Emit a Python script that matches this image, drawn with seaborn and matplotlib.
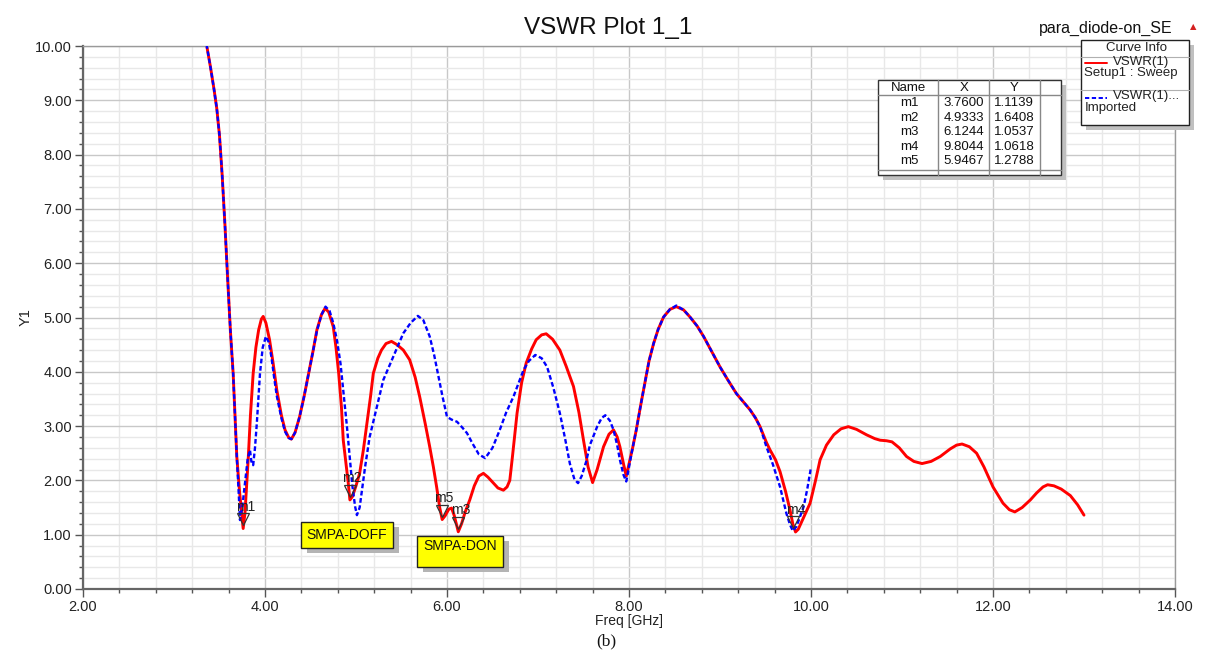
import numpy as np
import pandas as pd
import seaborn as sns
import matplotlib.pyplot as plt
from matplotlib.lines import Line2D
from matplotlib.patches import Rectangle
from matplotlib.ticker import MultipleLocator, FormatStrFormatter
from matplotlib.transforms import offset_copy

# VSWR(1) Setup1 : Sweep  (red, solid)
freq_sweep = [3.33, 3.36, 3.40, 3.44, 3.47, 3.50, 3.53, 3.56, 3.59, 3.62, 3.65, 3.69, 3.72, 3.744,
              3.76, 3.78, 3.80, 3.817, 3.84, 3.87, 3.90, 3.93, 3.96, 3.98, 4.01, 4.05, 4.09,
              4.13, 4.18, 4.22, 4.26, 4.29, 4.33, 4.38, 4.43, 4.48, 4.53, 4.57, 4.62, 4.66,
              4.70, 4.75, 4.78, 4.81, 4.84, 4.86, 4.89, 4.915, 4.933, 4.96, 5.00, 5.04, 5.08,
              5.12, 5.16, 5.19, 5.24, 5.28, 5.33, 5.39, 5.45, 5.52, 5.59, 5.65, 5.70, 5.76,
              5.81, 5.85, 5.886, 5.92, 5.947, 5.98, 6.02, 6.05, 6.08, 6.11, 6.124, 6.16, 6.20,
              6.25, 6.30, 6.35, 6.40, 6.45, 6.51, 6.56, 6.62, 6.66, 6.69, 6.72, 6.77, 6.82,
              6.87, 6.93, 6.98, 7.04, 7.09, 7.16, 7.24, 7.31, 7.39, 7.45, 7.50, 7.55, 7.60,
              7.65, 7.72, 7.78, 7.83, 7.87, 7.90, 7.94, 7.97, 8.00, 8.04, 8.08, 8.13, 8.18,
              8.22, 8.27, 8.32, 8.38, 8.45, 8.52, 8.60, 8.67, 8.75, 8.82, 8.91, 9.00, 9.09,
              9.18, 9.26, 9.33, 9.39, 9.44, 9.51, 9.55, 9.61, 9.66, 9.72, 9.77, 9.80, 9.83,
              9.86, 9.92, 9.99, 10.05, 10.10, 10.17, 10.25, 10.33, 10.41, 10.50, 10.61, 10.70,
              10.76, 10.83, 10.89, 10.97, 11.05, 11.13, 11.22, 11.32, 11.42, 11.53, 11.60,
              11.66, 11.74, 11.82, 11.90, 12.00, 12.11, 12.18, 12.24, 12.32, 12.41, 12.48,
              12.55, 12.60, 12.67, 12.75, 12.85, 12.93, 13.00]
vswr_sweep = [10.3, 10.0, 9.62, 9.20, 8.85, 8.35, 7.60, 6.70, 5.70, 4.75, 3.97, 2.44, 1.8, 1.4,
              1.114, 1.4, 1.95, 2.44, 3.2, 3.97, 4.45, 4.77, 4.97, 5.02, 4.90, 4.59, 4.15,
              3.66, 3.20, 2.93, 2.79, 2.76, 2.88, 3.17, 3.55, 3.97, 4.40, 4.77, 5.05, 5.17,
              5.10, 4.83, 4.45, 3.97, 3.35, 2.74, 2.30, 1.95, 1.64, 1.70, 1.90, 2.13, 2.55,
              3.05, 3.55, 3.97, 4.25, 4.40, 4.52, 4.56, 4.50, 4.40, 4.22, 3.90, 3.54, 3.05,
              2.62, 2.25, 1.88, 1.50, 1.279, 1.35, 1.47, 1.49, 1.35, 1.15, 1.054, 1.20, 1.42,
              1.64, 1.90, 2.08, 2.13, 2.06, 1.95, 1.86, 1.82, 1.88, 2.00, 2.45, 3.24, 3.80,
              4.16, 4.42, 4.59, 4.68, 4.70, 4.60, 4.40, 4.10, 3.73, 3.25, 2.74, 2.25, 1.96,
              2.20, 2.62, 2.85, 2.93, 2.80, 2.62, 2.30, 2.08, 2.30, 2.60, 2.93, 3.40, 3.85,
              4.20, 4.52, 4.78, 5.01, 5.15, 5.20, 5.14, 5.01, 4.84, 4.65, 4.37, 4.09, 3.84,
              3.60, 3.44, 3.30, 3.15, 2.99, 2.70, 2.56, 2.38, 2.16, 1.80, 1.45, 1.20, 1.05,
              1.10, 1.32, 1.58, 2.00, 2.38, 2.65, 2.84, 2.95, 2.99, 2.94, 2.84, 2.77,
              2.74, 2.73, 2.71, 2.60, 2.44, 2.35, 2.31, 2.35, 2.44, 2.58, 2.65,
              2.67, 2.62, 2.50, 2.25, 1.88, 1.58, 1.46, 1.42, 1.50, 1.64, 1.77,
              1.88, 1.92, 1.90, 1.84, 1.72, 1.55, 1.36]

# VSWR(1)... Imported  (blue, dashed)
freq_imported = [3.33, 3.36, 3.40, 3.44, 3.47, 3.50, 3.53, 3.56, 3.59, 3.62, 3.65, 3.69, 3.71,
                 3.725, 3.75, 3.78, 3.81, 3.835, 3.85, 3.87, 3.89, 3.91, 3.945, 3.975, 4.01,
                 4.04, 4.07, 4.10, 4.13, 4.18, 4.22, 4.26, 4.29, 4.33, 4.38, 4.43, 4.48, 4.53,
                 4.57, 4.62, 4.665, 4.71, 4.75, 4.79, 4.83, 4.86, 4.90, 4.93, 4.96, 4.99, 5.01,
                 5.04, 5.10, 5.15, 5.23, 5.30, 5.41, 5.52, 5.60, 5.68, 5.74, 5.81, 5.86, 5.90,
                 5.95, 6.00, 6.05, 6.11, 6.17, 6.22, 6.28, 6.35, 6.42, 6.50, 6.58, 6.65, 6.73,
                 6.84, 6.90, 6.97, 7.04, 7.10, 7.17, 7.24, 7.30, 7.35, 7.40, 7.44, 7.48, 7.53,
                 7.57, 7.65, 7.70, 7.74, 7.79, 7.83, 7.87, 7.90, 7.94, 7.97, 8.00, 8.04, 8.08,
                 8.13, 8.18, 8.22, 8.27, 8.32, 8.38, 8.45, 8.52, 8.60, 8.67, 8.75, 8.82, 8.91,
                 9.00, 9.09, 9.18, 9.26, 9.33, 9.39, 9.44, 9.51, 9.58, 9.66, 9.73, 9.77, 9.80,
                 9.84, 9.92, 9.96, 10.00]
vswr_imported = [10.3, 10.0, 9.62, 9.20, 8.85, 8.35, 7.60, 6.70, 5.70, 4.75, 3.97, 2.44, 1.8,
                 1.27, 1.5, 1.95, 2.40, 2.56, 2.35, 2.28, 2.60, 3.05, 3.97, 4.45, 4.65,
                 4.55, 4.28, 3.90, 3.55, 3.15, 2.90, 2.78, 2.76, 2.88, 3.17, 3.55, 3.97, 4.40,
                 4.75, 5.05, 5.20, 5.12, 4.90, 4.59, 4.15, 3.66, 3.00, 2.44, 1.90, 1.52, 1.36,
                 1.50, 2.25, 2.80, 3.36, 3.85, 4.28, 4.71, 4.90, 5.03, 4.95, 4.65, 4.30, 3.97,
                 3.55, 3.17, 3.12, 3.08, 2.97, 2.87, 2.68, 2.48, 2.41, 2.60, 2.93, 3.25, 3.54,
                 4.03, 4.20, 4.31, 4.25, 4.09, 3.70, 3.24, 2.75, 2.31, 2.02, 1.95, 2.08, 2.35,
                 2.65, 2.99, 3.15, 3.20, 3.10, 2.93, 2.65, 2.38, 2.10, 1.98, 2.25, 2.60, 2.93,
                 3.40, 3.85, 4.20, 4.52, 4.78, 5.01, 5.15, 5.22, 5.14, 5.01, 4.84, 4.65, 4.37,
                 4.09, 3.84, 3.60, 3.44, 3.30, 3.15, 2.99, 2.62, 2.30, 1.88, 1.39, 1.18, 1.07,
                 1.15, 1.52, 1.85, 2.24]

marker_names = ["m1", "m2", "m3", "m4", "m5"]
marker_x = [3.7600, 4.9333, 6.1244, 9.8044, 5.9467]
marker_y = [1.1139, 1.6408, 1.0537, 1.0618, 1.2788]

W, H = 1208, 662


def fx(px):
    return px / W


def fy(py):
    return 1 - py / H


sns.set_style("white")
plt.rcParams['font.family'] = ['Liberation Sans', 'DejaVu Sans']

fig = plt.figure(figsize=(W / 100, H / 100), dpi=100)
ax = fig.add_axes([fx(83), fy(589), (1175 - 83) / W, (589 - 46) / H])

sweep_df = pd.DataFrame({"freq": freq_sweep, "vswr": vswr_sweep})
imported_df = pd.DataFrame({"freq": freq_imported, "vswr": vswr_imported})

sns.lineplot(data=imported_df, x="freq", y="vswr", ax=ax, color="#0000ff",
             lw=1.7, estimator=None, sort=False, zorder=3)
ax.lines[-1].set_linestyle("--")
ax.lines[-1].set_dashes([2, 1.1])
sns.lineplot(data=sweep_df, x="freq", y="vswr", ax=ax, color="#ff0000",
             lw=2.1, estimator=None, sort=False, zorder=2)

# markers
tri_tr = offset_copy(ax.transData, fig=fig, x=0, y=6.5, units="points")
for name, mx, my in zip(marker_names, marker_x, marker_y):
    ax.plot([mx], [my], marker="v", ms=8.5, mfc="none", mec="#333333", mew=0.9,
            ls="none", transform=tri_tr, zorder=5)
    ax.annotate(name, (mx, my), xytext=(1.5, 15.5), textcoords="offset points",
                ha="center", va="center", fontsize=10, color="#222222", zorder=6)

ax.set_xlim(2, 14)
ax.set_ylim(0, 10)
ax.xaxis.set_major_locator(MultipleLocator(2))
ax.xaxis.set_minor_locator(MultipleLocator(0.4))
ax.yaxis.set_major_locator(MultipleLocator(1))
ax.yaxis.set_minor_locator(MultipleLocator(0.2))
ax.xaxis.set_major_formatter(FormatStrFormatter("%.2f"))
ax.yaxis.set_major_formatter(FormatStrFormatter("%.2f"))
ax.grid(which="major", color="#c8c8c8", lw=1.0, zorder=0)
ax.grid(which="minor", color="#e8e8e8", lw=1.0, zorder=0)
ax.set_axisbelow(True)
ax.tick_params(which="major", direction="out", length=6, width=1, color="#555555",
               labelsize=10.5, labelcolor="#222222", pad=2, bottom=True, left=True)
ax.tick_params(which="minor", direction="out", length=3, width=1, color="#555555",
               bottom=True, left=True)
for side in ["top", "right"]:
    ax.spines[side].set_color("#9a9a9a")
    ax.spines[side].set_linewidth(1.0)
for side in ["left", "bottom"]:
    ax.spines[side].set_color("#666666")
    ax.spines[side].set_linewidth(1.6)

ax.set_xlabel("Freq [GHz]", fontsize=10, labelpad=0, color="#222222")
ax.set_ylabel("Y1", fontsize=10.5, labelpad=2, color="#222222")

# yellow note boxes
notes = [("SMPA-DOFF", (301, 522, 393, 548), 535), ("SMPA-DON", (417, 536, 503, 567), 546)]
for label, (x0, y0, x1, y1), ty in notes:
    fig.add_artist(Rectangle((fx(x0 + 6), fy(y1 + 5)), fx(x1 - x0), (y1 - y0) / H,
                             transform=fig.transFigure, fc="#b4b4b4", ec="none", zorder=7))
    fig.add_artist(Rectangle((fx(x0), fy(y1)), fx(x1 - x0), (y1 - y0) / H,
                             transform=fig.transFigure, fc="#ffff00", ec="#222222",
                             lw=1.0, zorder=8))
    fig.text(fx((x0 + x1) / 2), fy(ty), label, ha="center", va="center",
             fontsize=10, color="#111111", zorder=9)

# titles
fig.text(fx(608), fy(28), "VSWR Plot 1_1", ha="center", va="center", fontsize=17.5,
         color="#111111")
fig.text(fx(1173), fy(28), "para_diode-on_SE", ha="right", va="center", fontsize=11.5,
         color="#111111")
fig.text(fx(1193), fy(27), "\u25b2", ha="center", va="center", fontsize=6,
         color="#d42020", family="DejaVu Sans")

# curve info legend
fig.add_artist(Rectangle((fx(1086), fy(130)), fx(108), 85 / H, transform=fig.transFigure,
                         fc="#c0c0c0", ec="none", zorder=7))
fig.add_artist(Rectangle((fx(1081), fy(125)), fx(108), 85 / H, transform=fig.transFigure,
                         fc="white", ec="#222222", lw=1.0, zorder=8))
for py in (57, 90):
    fig.add_artist(Line2D([fx(1081), fx(1189)], [fy(py), fy(py)], transform=fig.transFigure,
                          color="#b0b0b0", lw=0.8, zorder=9))
fig.text(fx(1136), fy(48), "Curve Info", ha="center", va="center", fontsize=9.5,
         color="#222222", zorder=9)
fig.add_artist(Line2D([fx(1085), fx(1107)], [fy(63), fy(63)], transform=fig.transFigure,
                      color="#ff0000", lw=1.4, zorder=9))
fig.text(fx(1113), fy(61.5), "VSWR(1)", ha="left", va="center", fontsize=9.5,
         color="#222222", zorder=9)
fig.text(fx(1084), fy(73), "Setup1 : Sweep", ha="left", va="center", fontsize=9.5,
         color="#222222", zorder=9)
blue_leg = Line2D([fx(1085), fx(1107)], [fy(98), fy(98)], transform=fig.transFigure,
                  color="#0000ff", lw=1.4, ls="--", zorder=9)
blue_leg.set_dashes([2.2, 1.3])
fig.add_artist(blue_leg)
fig.text(fx(1113), fy(96), "VSWR(1)...", ha="left", va="center", fontsize=9.5,
         color="#222222", zorder=9)
fig.text(fx(1085), fy(107.5), "Imported", ha="left", va="center", fontsize=9.5,
         color="#222222", zorder=9)

# marker table
tx0, tx1, ty0, ty1 = 878, 1061, 80, 175
fig.add_artist(Rectangle((fx(tx0 + 5), fy(ty1 + 5)), fx(tx1 - tx0), (ty1 - ty0) / H,
                         transform=fig.transFigure, fc="#c0c0c0", ec="none", zorder=7))
fig.add_artist(Rectangle((fx(tx0), fy(ty1)), fx(tx1 - tx0), (ty1 - ty0) / H,
                         transform=fig.transFigure, fc="white", ec="#333333", lw=1.0, zorder=8))
for px in (938, 989, 1040):
    fig.add_artist(Line2D([fx(px), fx(px)], [fy(ty0), fy(ty1)], transform=fig.transFigure,
                          color="#888888", lw=1.0, zorder=9))
for py in (95, 170):
    fig.add_artist(Line2D([fx(tx0), fx(tx1)], [fy(py), fy(py)], transform=fig.transFigure,
                          color="#888888", lw=1.0, zorder=9))
col_cx = [909, 964, 1014]
for cx, head in zip(col_cx, ["Name", "X", "Y"]):
    fig.text(fx(cx), fy(88), head, ha="center", va="center", fontsize=9.5,
             color="#111111", zorder=9)
for i, (name, mx, my) in enumerate(zip(marker_names, marker_x, marker_y)):
    rowy = fy(103.3 + i * 14.4)
    fig.text(fx(col_cx[0]), rowy, name, ha="center", va="center", fontsize=9.5,
             color="#111111", zorder=9)
    fig.text(fx(col_cx[1]), rowy, "%.4f" % mx, ha="center", va="center", fontsize=9.5,
             color="#111111", zorder=9)
    fig.text(fx(col_cx[2]), rowy, "%.4f" % my, ha="center", va="center", fontsize=9.5,
             color="#111111", zorder=9)

fig.text(fx(606), fy(641), "(b)", ha="center", va="center", fontsize=12.5,
         family="Liberation Serif", color="#111111")

fig.savefig("out.png", dpi=100)
